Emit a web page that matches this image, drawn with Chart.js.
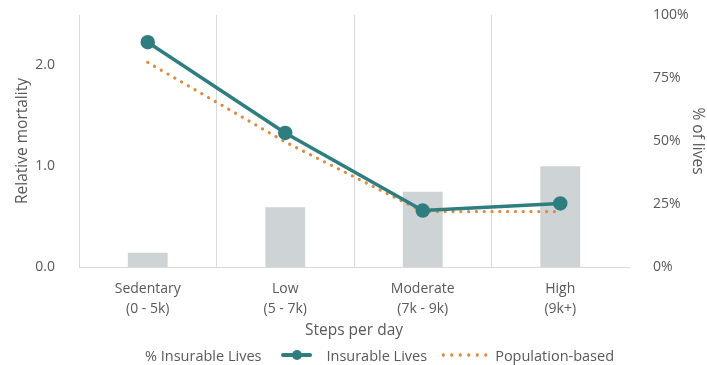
<!DOCTYPE html>
<html>
<head>
<meta charset="utf-8">
<script src="https://cdn.jsdelivr.net/npm/chart.js@4"></script>
<style>
  body { margin: 0; background: #fff; }
  #wrap { position: relative; width: 707px; height: 365px; }
  #legend {
    position: absolute; left: 145px; top: 345px; height: 20px;
    display: flex; align-items: center;
    font-family: "Open Sans", sans-serif; font-size: 14.5px; color: #595959;
    white-space: nowrap;
  }
  .teal { position: relative; width: 31px; height: 4px; background: #2E7E80; margin: 0 14px 0 20px; border-radius: 2px; }
  .teal::after { content: ""; position: absolute; left: 11px; top: -3.5px; width: 10px; height: 10px; border-radius: 50%; background: #2E7E80; }
  .dots { width: 52px; height: 4px; margin: 0 4px 0 12px;
    background-image: radial-gradient(circle, #E08A3C 1.5px, transparent 1.9px);
    background-size: 8.5px 4px; }
</style>
</head>
<body>
<div id="wrap">
  <canvas id="chart" width="707" height="365"></canvas>
  <div id="legend">
    <span>% Insurable Lives</span>
    <span class="teal"></span>
    <span>Insurable Lives</span>
    <span class="dots"></span>
    <span>Population-based</span>
  </div>
</div>
<script>
// data
const categories = [['Sedentary', '(0 - 5k)'], ['Low', '(5 - 7k)'], ['Moderate', '(7k - 9k)'], ['High', '(9k+)']];
const pctInsurableLives = [5.7, 23.7, 29.9, 40];
const insurableLives = [2.23, 1.33, 0.56, 0.63];
const populationBased = [2.03, 1.24, 0.55, 0.55];
const leftTicks = [0, 1, 2];
const rightTicks = [0, 25, 50, 75, 100];

const gray = '#595959';
const lineGray = '#D9D9D9';
const font = { family: 'Open Sans', size: 14 };
const titleFont = { family: 'Open Sans', size: 15.5 };

// y axes: fixed width, no extra top/bottom padding from the tick labels
function fixY(width) {
    return s => {
        s.width = width;
        s.paddingTop = 0;
        s.paddingBottom = 0;
    };
}

const canvas = document.querySelector('#chart');

new Chart(canvas.getContext('2d'), {
    type: 'bar',
    data: {
        labels: categories,
        datasets: [
            {
                type: 'line',
                label: 'Insurable Lives',
                data: insurableLives,
                yAxisID: 'y',
                borderColor: '#2E7E80',
                backgroundColor: '#2E7E80',
                borderWidth: 3.5,
                pointRadius: 5.5,
                pointHoverRadius: 5.5,
                order: 0
            },
            {
                type: 'line',
                label: 'Population-based',
                data: populationBased,
                yAxisID: 'y',
                borderColor: '#E08A3C',
                borderWidth: 3.2,
                borderDash: [0.1, 7.7],
                borderCapStyle: 'round',
                pointRadius: 0,
                order: 1
            },
            {
                type: 'bar',
                label: '% Insurable Lives',
                data: pctInsurableLives,
                yAxisID: 'y1',
                backgroundColor: '#CED4D5',
                categoryPercentage: 1,
                barPercentage: 0.29,
                order: 2
            }
        ]
    },
    options: {
        responsive: false,
        animation: false,
        layout: { padding: { top: 15, left: 0, right: 0, bottom: 25 } },
        plugins: { legend: { display: false }, tooltip: { enabled: false } },
        scales: {
            x: {
                offset: true,
                grid: {
                    offset: true,
                    drawTicks: false,
                    color: ctx => ctx.index === undefined ? 'rgba(0,0,0,0)' : lineGray
                },
                border: { display: true, color: lineGray },
                ticks: { color: gray, font: { ...font, lineHeight: 1.43 }, padding: 12, maxRotation: 0 },
                title: { display: true, text: 'Steps per day', color: gray, font: titleFont, padding: 0 },
                afterFit: s => { s.height = 73; }
            },
            y: {
                position: 'left',
                min: 0,
                max: 2.5,
                afterBuildTicks: s => { s.ticks = leftTicks.map(v => ({ value: v })); },
                ticks: { color: gray, font, padding: 16, callback: v => v.toFixed(1) },
                grid: { display: false },
                border: { display: false },
                title: { display: true, text: 'Relative mortality', color: gray, font: titleFont, padding: { top: 13 } },
                afterFit: fixY(79)
            },
            y1: {
                position: 'right',
                min: 0,
                max: 100,
                afterBuildTicks: s => { s.ticks = rightTicks.map(v => ({ value: v })); },
                ticks: { color: gray, font, padding: 16, callback: v => v + '%' },
                grid: { display: false },
                border: { display: false },
                title: { display: true, text: '% of lives', color: gray, font: titleFont, padding: 0 },
                afterFit: fixY(78)
            }
        }
    }
});
</script>
</body>
</html>
